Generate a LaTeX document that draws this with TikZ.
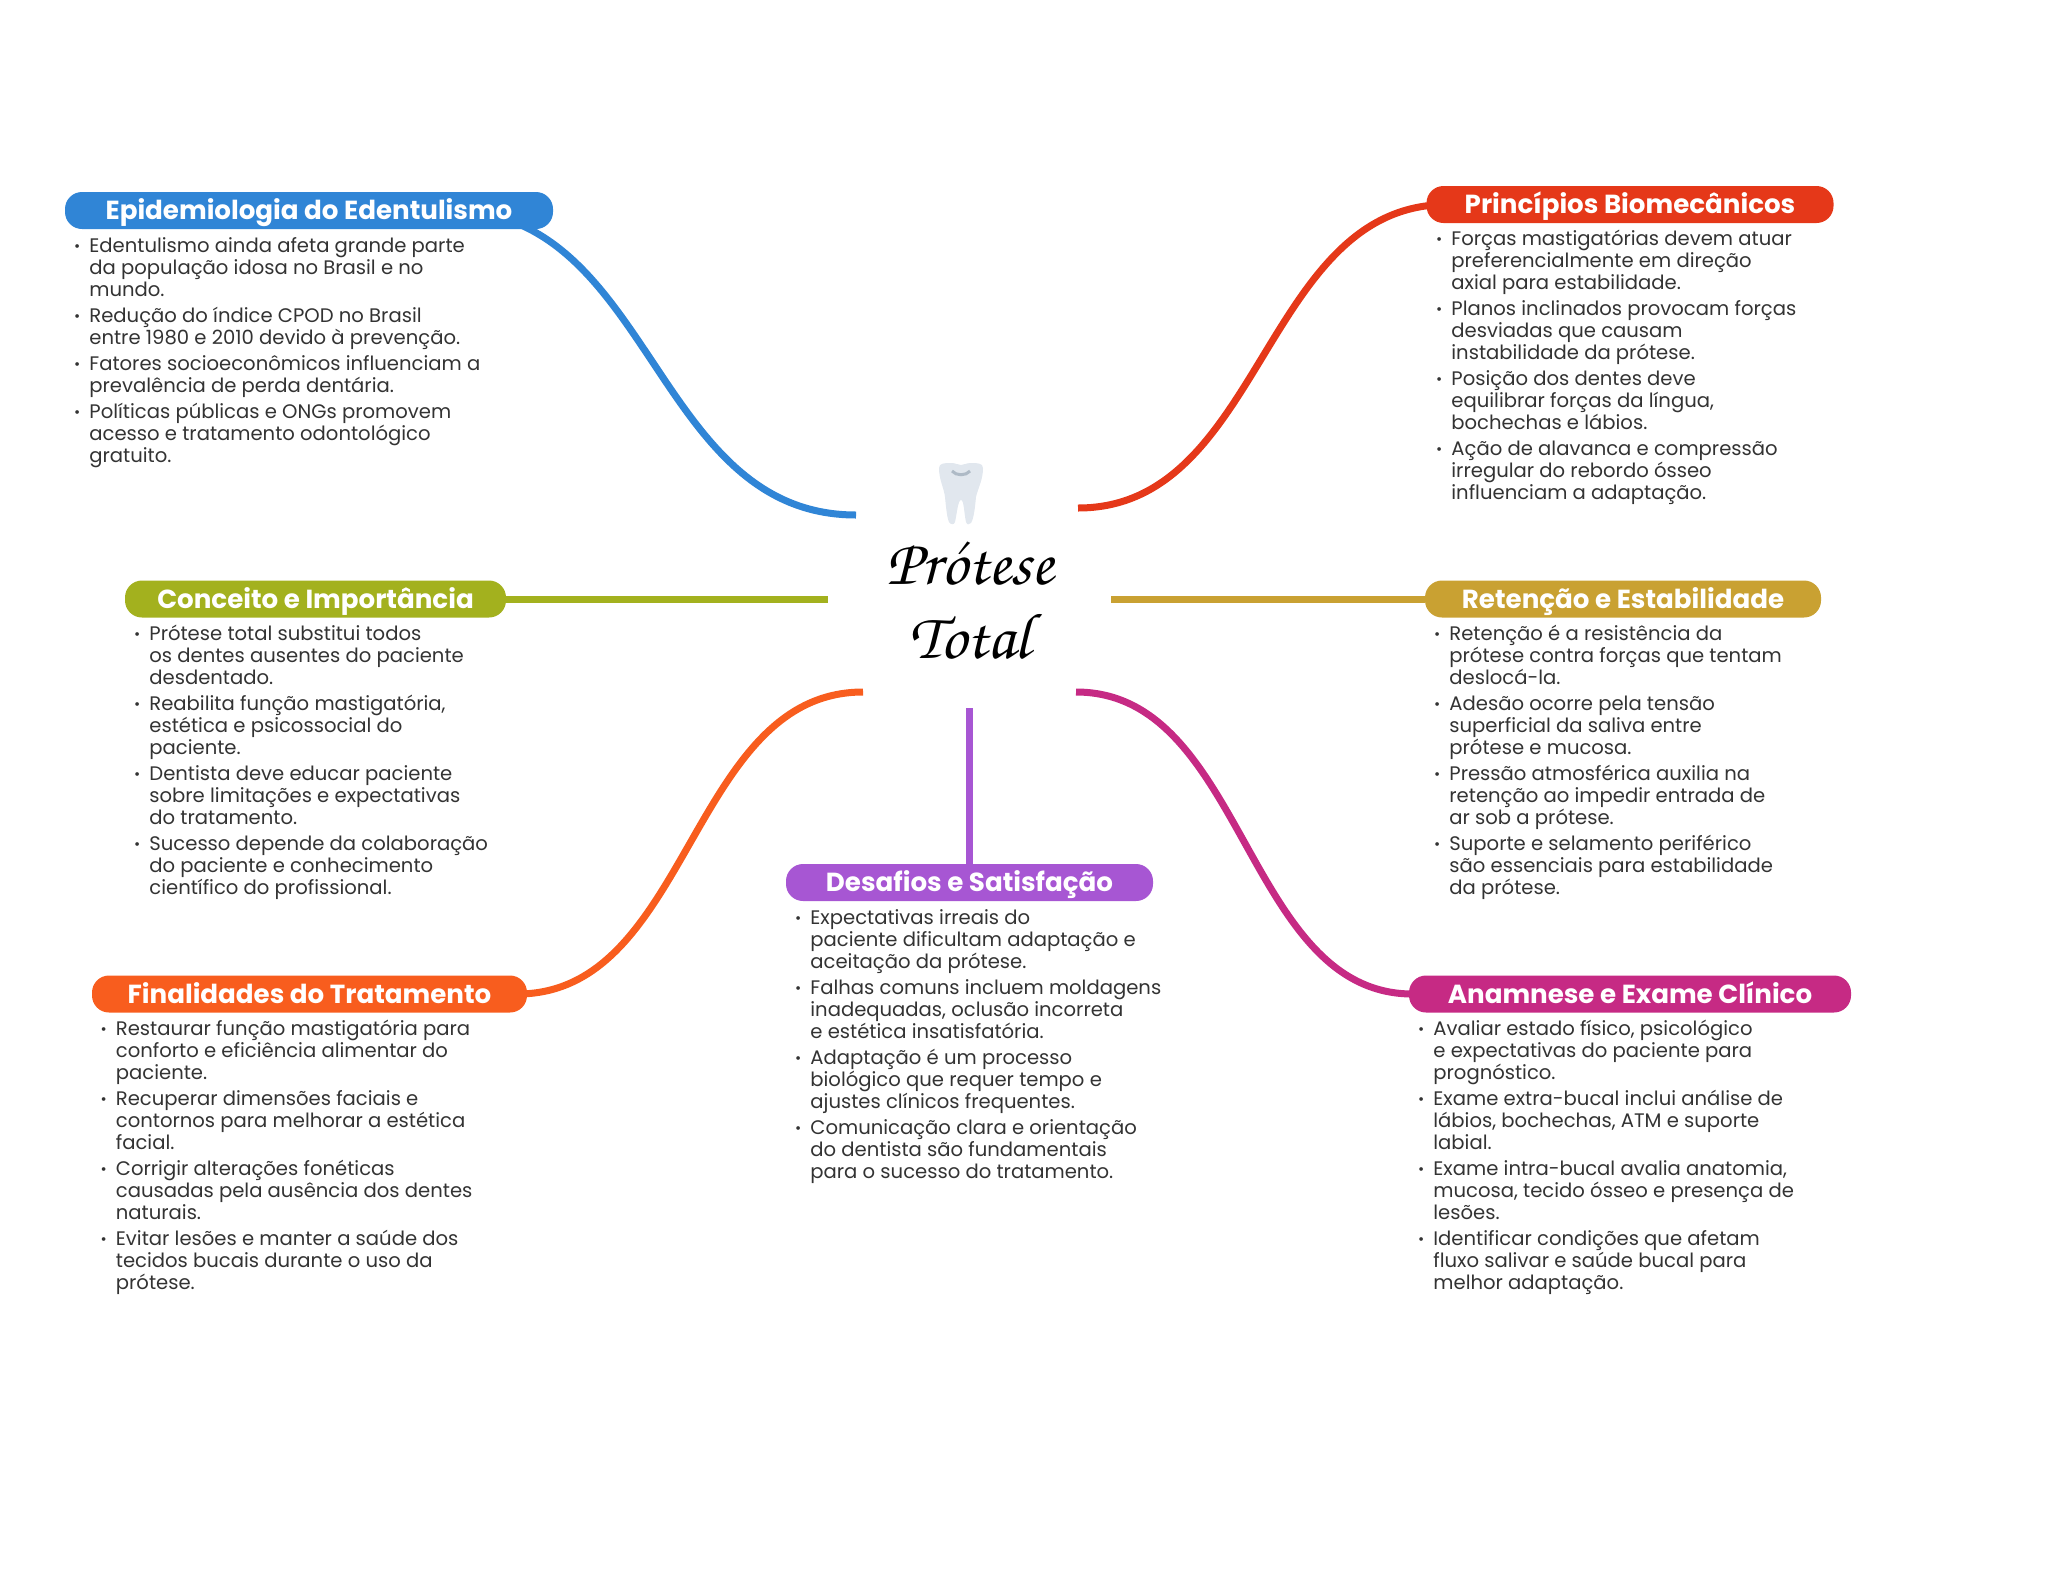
\documentclass[tikz,border=0pt]{standalone}
\usepackage[T1,TU]{fontenc}
\usepackage{fontspec}
\setmainfont{Poppins}
\definecolor{EpidBlue}{RGB}{48,133,214}
\definecolor{PrinRed}{RGB}{229,56,25}
\definecolor{ConcOlive}{RGB}{163,177,30}
\definecolor{RetnGold}{RGB}{201,161,50}
\definecolor{FinaOrange}{RGB}{248,93,30}
\definecolor{DesaPurple}{RGB}{167,86,211}
\definecolor{AnamPink}{RGB}{198,42,132}
\definecolor{BodyGray}{RGB}{51,51,51}
\definecolor{ToothFill}{RGB}{225,231,238}
\definecolor{ToothMark}{RGB}{174,186,198}
\usetikzlibrary{backgrounds, calc}
\newcommand{\itm}{\strut\llap{\raisebox{0.6pt}{\fontsize{7.5}{7.5}\selectfont\textbullet}\hspace{4.5pt}}}
\newcommand{\hubfont}{\fontencoding{T1}\fontfamily{pzc}\fontseries{mb}\fontshape{it}\fontsize{32.5}{37}\selectfont}
\newcommand{\listfont}{\fontsize{9.8}{11}\selectfont\lineskiplimit=-20pt\relax}
\tikzset{
	pillbox/.style={rounded corners=8.5pt, inner sep=0pt, text=white, text height=11pt, text depth=2pt,
		font=\fontsize{13.07}{14}\bfseries},
	bodytext/.style={anchor=north west, align=left, inner sep=0pt, text=BodyGray, font=\listfont},
	limb/.style={line width=3.5pt},
}
\begin{document}
\begin{tikzpicture}[x=0.5pt, y=-0.5pt]
	\useasboundingbox (0,0) rectangle (2048,1569);
	% central title and tooth
	\fill[ToothFill] (939,468) .. controls (939,463) and (945,463) .. (951,463)
		.. controls (956,463) and (958,465) .. (961,465)
		.. controls (964,465) and (966,463) .. (971,463)
		.. controls (977,463) and (983,463) .. (983,468)
		.. controls (983,480) and (978,488) .. (976,497)
		.. controls (975,507) and (974,518) .. (971,523)
		.. controls (969,525) and (967,525) .. (966,522)
		.. controls (964,513) and (964,500) .. (961,500)
		.. controls (958,500) and (957,513) .. (955,522)
		.. controls (954,525) and (951,525) .. (949,522)
		.. controls (947,518) and (946,507) .. (945,497)
		.. controls (944,488) and (939,480) .. (939,468) -- cycle;
	\draw[ToothMark, line width=1.5pt] (952,471) .. controls (956,476) and (966,476) .. (970,471);
	\node[align=center, inner sep=0pt, font=\hubfont, text=black] (hub) at (970,601) {Pr\'otese\\ Total};
	\coordinate (hubNW) at (856,515);
	\coordinate (hubNE) at (1078,508);
	\coordinate (hubW) at (828,599);
	\coordinate (hubE) at (1111,599);
	\coordinate (hubSW) at (863,692);
	\coordinate (hubSE) at (1076,692);
	\coordinate (hubS) at (969.5,708);
	% branches: pill and its bullet list
	\foreach \nm/\colr/\cx/\cy/\wid/\bx/\by/\ttl/\txt in {
		epid/EpidBlue/309/210.5/488/89/237/{Epidemiologia do Edentulismo}/{%
			\itm Edentulismo ainda afeta grande parte\\ da população idosa no Brasil e no\\ mundo.\\[2pt]
			\itm Redução do índice CPOD no Brasil\\ entre 1980 e 2010 devido à prevenção.\\[2pt]
			\itm Fatores socioeconômicos influenciam a\\ prevalência de perda dentária.\\[2pt]
			\itm Políticas públicas e ONGs promovem\\ acesso e tratamento odontológico\\ gratuito.},
		prin/PrinRed/1630/204.5/407/1451/230/{Princípios Biomecânicos}/{%
			\itm Forças mastigatórias devem atuar\\ preferencialmente em direção\\ axial para estabilidade.\\[2pt]
			\itm Planos inclinados provocam forças\\ desviadas que causam\\ instabilidade da prótese.\\[2pt]
			\itm Posição dos dentes deve\\ equilibrar forças da língua,\\ bochechas e lábios.\\[2pt]
			\itm Ação de alavanca e compressão\\ irregular do rebordo ósseo\\ influenciam a adaptação.},
		conc/ConcOlive/315.5/599/381/149/625/{Conceito e Importância}/{%
			\itm Prótese total substitui todos\\ os dentes ausentes do paciente\\ desdentado.\\[2pt]
			\itm Reabilita função mastigatória,\\ estética e psicossocial do\\ paciente.\\[2pt]
			\itm Dentista deve educar paciente\\ sobre limitações e expectativas\\ do tratamento.\\[2pt]
			\itm Sucesso depende da colaboração\\ do paciente e conhecimento\\ científico do profissional.},
		retn/RetnGold/1623/599/396/1449/625/{Retenção e Estabilidade}/{%
			\itm Retenção é a resistência da\\ prótese contra forças que tentam\\ deslocá-la.\\[2pt]
			\itm Adesão ocorre pela tensão\\ superficial da saliva entre\\ prótese e mucosa.\\[2pt]
			\itm Pressão atmosférica auxilia na\\ retenção ao impedir entrada de\\ ar sob a prótese.\\[2pt]
			\itm Suporte e selamento periférico\\ são essenciais para estabilidade\\ da prótese.},
		fina/FinaOrange/309.5/994/435/115.5/1020/{Finalidades do Tratamento}/{%
			\itm Restaurar função mastigatória para\\ conforto e eficiência alimentar do\\ paciente.\\[2pt]
			\itm Recuperar dimensões faciais e\\ contornos para melhorar a estética\\ facial.\\[2pt]
			\itm Corrigir alterações fonéticas\\ causadas pela ausência dos dentes\\ naturais.\\[2pt]
			\itm Evitar lesões e manter a saúde dos\\ tecidos bucais durante o uso da\\ prótese.},
		desa/DesaPurple/969.5/882.5/367/810/909/{Desafios e Satisfação}/{%
			\itm Expectativas irreais do\\ paciente dificultam adaptação e\\ aceitação da prótese.\\[2pt]
			\itm Falhas comuns incluem moldagens\\ inadequadas, oclusão incorreta\\ e estética insatisfatória.\\[2pt]
			\itm Adaptação é um processo\\ biológico que requer tempo e\\ ajustes clínicos frequentes.\\[2pt]
			\itm Comunicação clara e orientação\\ do dentista são fundamentais\\ para o sucesso do tratamento.},
		anam/AnamPink/1630/994/442/1433/1020/{Anamnese e Exame Clínico}/{%
			\itm Avaliar estado físico, psicológico\\ e expectativas do paciente para\\ prognóstico.\\[2pt]
			\itm Exame extra-bucal inclui análise de\\ lábios, bochechas, ATM e suporte\\ labial.\\[2pt]
			\itm Exame intra-bucal avalia anatomia,\\ mucosa, tecido ósseo e presença de\\ lesões.\\[2pt]
			\itm Identificar condições que afetam\\ fluxo salivar e saúde bucal para\\ melhor adaptação.}}{
		\node[pillbox, fill=\colr, minimum width=\wid*0.5pt, minimum height=18.5pt] (\nm) at (\cx,\cy) {\ttl};
		\node[bodytext] (\nm text) at (\bx,\by) {\txt};
	}
	% connectors go under the pills
	\begin{scope}[on background layer]
		\draw[limb, EpidBlue] ([xshift=-51.5pt]epid.east) .. controls (653,210.5) and (653,515) .. (hubNW);
		\draw[limb, PrinRed] ([xshift=10.5pt]prin.west) .. controls (1263,204.5) and (1263,508) .. (hubNE);
		\draw[limb, ConcOlive] (conc.east) -- (hubW);
		\draw[limb, RetnGold] (retn.west) -- (hubE);
		\draw[limb, FinaOrange] ([xshift=-5pt]fina.east) .. controls (690,994) and (690,692) .. (hubSW);
		\draw[limb, DesaPurple] (desa.north) -- (hubS);
		\draw[limb, AnamPink] ([xshift=2pt]anam.west) .. controls (1245,994) and (1245,692) .. (hubSE);
	\end{scope}
\end{tikzpicture}
\end{document}
